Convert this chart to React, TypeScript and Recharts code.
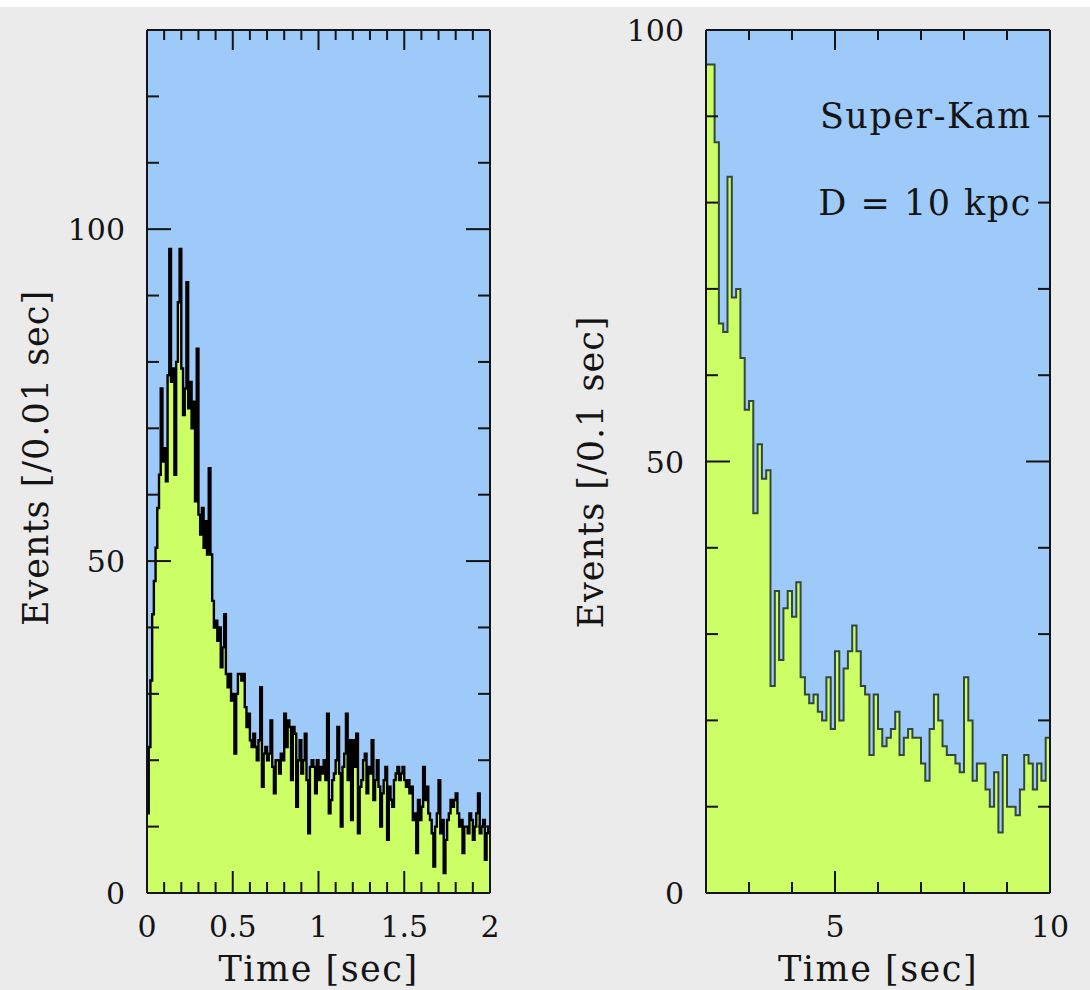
import React from "react";
import { AreaChart, Area, XAxis, YAxis, CartesianGrid, ReferenceDot, ReferenceLine } from "recharts";

// events per 0.01 s bin, 0 – 2 s
const fastCounts = [
  12, 22, 32, 42, 47, 52, 58, 63, 76, 65,
  67, 62, 78, 97, 77, 79, 63, 80, 89, 97,
  79, 72, 76, 92, 73, 77, 70, 74, 59, 82,
  57, 54, 58, 52, 56, 51, 64, 51, 44, 40,
  41, 38, 40, 34, 37, 42, 33, 31, 33, 29,
  30, 21, 30, 33, 33, 32, 33, 28, 25, 27,
  23, 22, 24, 22, 20, 23, 31, 16, 21, 22,
  20, 21, 26, 19, 15, 20, 20, 18, 21, 20,
  27, 22, 26, 25, 17, 25, 24, 13, 20, 23,
  18, 20, 24, 17, 9, 19, 20, 19, 15, 20,
  17, 19, 18, 20, 17, 27, 12, 14, 17, 18,
  20, 25, 18, 10, 19, 21, 27, 17, 23, 11,
  23, 19, 24, 9, 16, 17, 20, 21, 15, 19,
  18, 23, 14, 17, 20, 16, 10, 15, 17, 19,
  8, 16, 14, 13, 17, 18, 19, 17, 18, 19,
  17, 16, 17, 15, 16, 11, 12, 6, 14, 11,
  13, 19, 14, 16, 12, 11, 9, 4, 10, 12,
  17, 9, 11, 3, 8, 11, 12, 14, 13, 14,
  15, 12, 10, 11, 6, 10, 10, 9, 12, 11,
  8, 10, 12, 15, 9, 10, 11, 5, 9, 10,
];

// events per 0.1 s bin, 2 – 10 s
const slowCounts = [
  96, 96, 87, 66, 65, 83, 69, 70, 62, 56,
  57, 44, 52, 48, 49, 24, 35, 27, 33, 35,
  32, 36, 25, 23, 22, 23, 21, 20, 25, 19,
  28, 20, 26, 28, 31, 28, 24, 23, 16, 23,
  19, 17, 18, 19, 21, 16, 18, 19, 18, 18,
  15, 13, 19, 23, 20, 17, 16, 16, 15, 14,
  25, 20, 13, 15, 15, 12, 10, 14, 7, 16,
  10, 10, 9, 12, 16, 15, 12, 15, 13, 18,
];

const fastTimeTicks = [0, 0.1, 0.2, 0.3, 0.4, 0.5, 0.6, 0.7, 0.8, 0.9, 1, 1.1, 1.2, 1.3, 1.4, 1.5, 1.6, 1.7, 1.8, 1.9, 2];
const fastTimeLabels = [0, 0.5, 1, 1.5, 2];
const fastEventTicks = [0, 10, 20, 30, 40, 50, 60, 70, 80, 90, 100, 110, 120, 130];
const fastEventLabels = [0, 50, 100];

const slowTimeTicks = [2, 3, 4, 5, 6, 7, 8, 9, 10];
const slowTimeLabels = [5, 10];
const slowEventTicks = [0, 10, 20, 30, 40, 50, 60, 70, 80, 90, 100];
const slowEventLabels = [0, 50, 100];

const FONT = '"DejaVu Serif", serif';
const SKY = "#9dcaf9";
const LIME = "#ccfe66";
const INK = "#141414";

const PLOT_TOP = 30;
const PLOT_BOTTOM = 893;
const H = 990;

function binRows(counts: number[], start: number, width: number) {
  const rows = counts.map((v, i) => ({ t: start + i * width, v }));
  rows.push({ t: start + counts.length * width, v: counts[counts.length - 1] });
  return rows;
}

const fmt = (v: number) => String(Math.round(v * 10) / 10);

type Side = "bottom" | "top" | "left" | "right";

function tickMaker(side: Side, labels: number[], minor: number, major: number) {
  return (p: any) => {
    const x = Number(p.x);
    const y = Number(p.y);
    const v = Number(p.payload.value);
    const isMajor = labels.some((l) => Math.abs(l - v) < 1e-6);
    const len = isMajor ? major : minor;
    if (side === "top") {
      // the top axis also marks the bottom edge of the frame (inward ticks)
      const bottomLen = isMajor ? major + 2 : minor + 1;
      return (
        <g>
          <line x1={x} y1={y} x2={x} y2={y + len} stroke={INK} strokeWidth={2} />
          <line x1={x} y1={PLOT_BOTTOM} x2={x} y2={PLOT_BOTTOM - bottomLen} stroke={INK} strokeWidth={2} />
        </g>
      );
    }
    if (side === "bottom") {
      return isMajor ? (
        <text x={x} y={PLOT_BOTTOM + 44} textAnchor="middle" fontFamily={FONT} fontSize={30} fill={INK}>
          {fmt(v)}
        </text>
      ) : (
        <g />
      );
    }
    const x2 = side === "left" ? x + len : x - len;
    return (
      <g>
        <line x1={x} y1={y} x2={x2} y2={y} stroke={INK} strokeWidth={2} />
        {isMajor && side === "left" && (
          <text x={x - 22} y={y + 11} textAnchor="end" fontFamily={FONT} fontSize={30} fill={INK}>
            {fmt(v)}
          </text>
        )}
      </g>
    );
  };
}

const xTitle = (text: string) => (props: any) => {
  const vb = props.viewBox;
  return (
    <text
      x={vb.x + vb.width / 2}
      y={981}
      textAnchor="middle"
      fontFamily={FONT}
      fontSize={35}
      letterSpacing={1.5}
      fill={INK}
    >
      {text}
    </text>
  );
};

const yTitle = (text: string, cx: number, cy: number) => () => (
  <text
    x={cx}
    y={cy}
    dy={13}
    transform={`rotate(-90, ${cx}, ${cy})`}
    textAnchor="middle"
    fontFamily={FONT}
    fontSize={35}
    letterSpacing={1}
    fill={INK}
  >
    {text}
  </text>
);

const note = (text: string) => (props: any) => {
  const vb = props.viewBox;
  return (
    <text x={vb.x} y={vb.y + 13} textAnchor="end" fontFamily={FONT} fontSize={35} letterSpacing={1.5} fill={INK}>
      {text}
    </text>
  );
};

const axisLine = { stroke: INK, strokeWidth: 2 };

type PanelProps = {
  data: { t: number; v: number }[];
  xDomain: [number, number];
  xTicks: number[];
  xLabels: number[];
  yDomain: [number, number];
  yTicks: number[];
  yLabels: number[];
  width: number;
  left: number;
  rightPad: number;
  stroke: string;
  strokeWidth: number;
  yLabel: string;
  yLabelX: number;
  yLabelY: number;
  notes?: boolean;
};

function Panel(p: PanelProps) {
  return (
    <div style={{ position: "relative", width: p.width, height: H }}>
      {/* histogram layer */}
      <div style={{ position: "absolute", left: 0, top: 0 }}>
        <AreaChart
          width={p.width}
          height={H}
          data={p.data}
          margin={{ top: PLOT_TOP, right: p.rightPad, bottom: H - PLOT_BOTTOM, left: p.left }}
        >
          <CartesianGrid fill={SKY} stroke="none" horizontal={false} vertical={false} />
          <XAxis dataKey="t" type="number" domain={p.xDomain} hide />
          <YAxis type="number" domain={p.yDomain} hide />
          <Area
            type="stepAfter"
            dataKey="v"
            stroke={p.stroke}
            strokeWidth={p.strokeWidth}
            fill={LIME}
            fillOpacity={1}
            dot={false}
            activeDot={false}
            isAnimationActive={false}
          />
        </AreaChart>
      </div>
      {/* frame, ticks and text layer */}
      <div style={{ position: "absolute", left: 0, top: 0 }}>
        <AreaChart
          width={p.width}
          height={H}
          data={p.data}
          margin={{ top: PLOT_TOP - 1, right: p.rightPad - 1, bottom: 0, left: 0 }}
        >
          <XAxis
            dataKey="t"
            type="number"
            domain={p.xDomain}
            ticks={p.xTicks}
            interval={0}
            height={H - PLOT_BOTTOM}
            tickSize={0}
            tickMargin={0}
            axisLine={axisLine}
            tick={tickMaker("bottom", p.xLabels, 10, 22)}
            label={{ content: xTitle("Time [sec]") }}
          />
          <XAxis
            xAxisId="top"
            orientation="top"
            dataKey="t"
            type="number"
            domain={p.xDomain}
            ticks={p.xTicks}
            interval={0}
            height={1}
            tickSize={0}
            tickMargin={0}
            axisLine={axisLine}
            tick={tickMaker("top", p.xLabels, 10, 20)}
          />
          <YAxis
            dataKey="v"
            type="number"
            domain={p.yDomain}
            ticks={p.yTicks}
            interval={0}
            width={p.left}
            tickSize={0}
            tickMargin={0}
            axisLine={axisLine}
            tick={tickMaker("left", p.yLabels, 12, 24)}
            label={{ content: yTitle(p.yLabel, p.yLabelX, p.yLabelY) }}
          />
          <YAxis
            yAxisId="right"
            orientation="right"
            dataKey="v"
            type="number"
            domain={p.yDomain}
            ticks={p.yTicks}
            interval={0}
            width={1}
            tickSize={0}
            tickMargin={0}
            axisLine={axisLine}
            tick={tickMaker("right", p.yLabels, 12, 24)}
          />
          <ReferenceLine y={p.yDomain[0]} stroke={INK} strokeWidth={2} />
          {p.notes && (
            <ReferenceDot x={9.6} y={90} r={1} fill="none" stroke="none" label={{ content: note("Super-Kam") }} />
          )}
          {p.notes && (
            <ReferenceDot x={9.6} y={80} r={1} fill="none" stroke="none" label={{ content: note("D = 10 kpc") }} />
          )}
        </AreaChart>
      </div>
    </div>
  );
}

export default function App() {
  const fastData = binRows(fastCounts, 0, 0.01);
  const slowData = binRows(slowCounts, 2, 0.1);
  return (
    <div style={{ position: "absolute", left: 0, top: 0, width: 1090, height: H }}>
      <div style={{ position: "absolute", left: 0, top: 7, width: 1090, height: H - 7, background: "#ebebeb" }} />
      <div style={{ position: "absolute", left: 0, top: 0 }}>
        <Panel
          data={fastData}
          xDomain={[0, 2]}
          xTicks={fastTimeTicks}
          xLabels={fastTimeLabels}
          yDomain={[0, 130]}
          yTicks={fastEventTicks}
          yLabels={fastEventLabels}
          width={560}
          left={147}
          rightPad={70}
          stroke="#000000"
          strokeWidth={2.4}
          yLabel="Events [/0.01 sec]"
          yLabelX={35}
          yLabelY={458}
        />
      </div>
      <div style={{ position: "absolute", left: 540, top: 0 }}>
        <Panel
          data={slowData}
          xDomain={[2, 10]}
          xTicks={slowTimeTicks}
          xLabels={slowTimeLabels}
          yDomain={[0, 100]}
          yTicks={slowEventTicks}
          yLabels={slowEventLabels}
          width={550}
          left={166}
          rightPad={40}
          stroke="#34473c"
          strokeWidth={2}
          yLabel="Events [/0.1 sec]"
          yLabelX={50}
          yLabelY={472}
          notes
        />
      </div>
    </div>
  );
}
